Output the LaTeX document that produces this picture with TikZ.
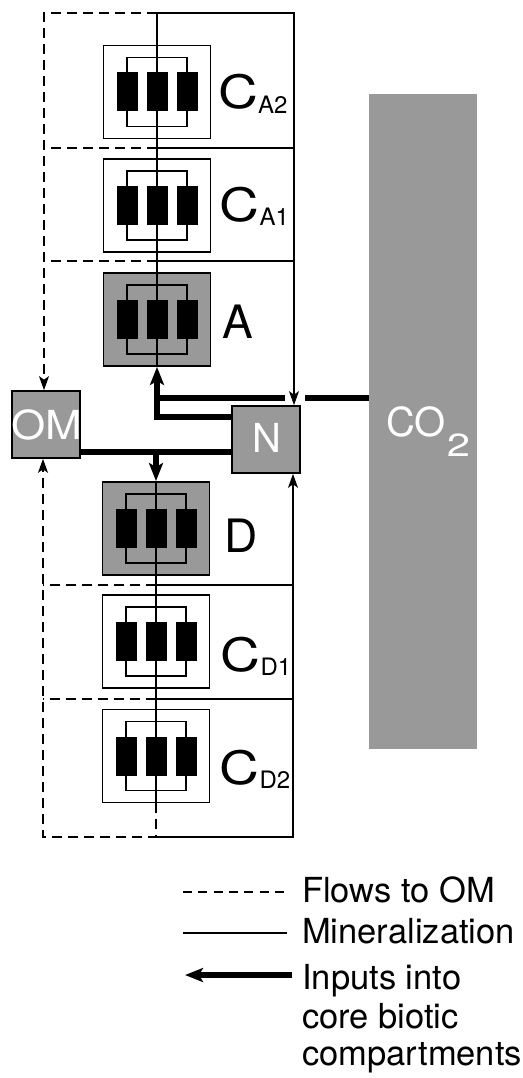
\documentclass[tikz,border=0pt]{standalone}
\usepackage{fontspec}
\usepackage{graphicx}
\setmainfont{TeX Gyre Heros}
\usetikzlibrary{arrows.meta}
\definecolor{stip}{gray}{0.6}
\newcommand{\compart}[4]{%
  \node[#4] (#1) at (#2,#3) {};
  \begin{scope}[shift={(#2,#3)}]
    \draw[line width=1.7pt] (-30,-34.5) rectangle (30,34.5);
    \draw[line width=1.5pt] (0,-46.5) -- (0,46.5);
    \fill (-40.5,-19.5) rectangle (-19.5,19.5);
    \fill (-10.5,-19.5) rectangle (10.5,19.5);
    \fill (19.5,-19.5) rectangle (40.5,19.5);
  \end{scope}}
\begin{document}
\begin{tikzpicture}[x=1pt,y=-1pt,
  thinline/.style={line width=1.5pt},
  omline/.style={line width=1.5pt, dash pattern=on 10pt off 6pt},
  omlegend/.style={line width=1.5pt, dash pattern=on 9pt off 6.3pt},
  thickline/.style={line width=5.5pt},
  cbox/.style={draw, line width=1.9pt, minimum width=107pt, minimum height=93pt, inner sep=0pt},
  cgray/.style={cbox, fill=stip},
  smallbox/.style={draw, line width=1.7pt, fill=stip, minimum width=68pt, minimum height=67pt, inner sep=0pt},
  whitetext/.style={inner sep=0pt, text=white, font=\fontsize{40}{40}\selectfont},
  thinarrow/.style={-{Stealth[length=14pt,width=10pt,inset=3.5pt]}},
  thickarrow/.style={-{Stealth[length=18pt,width=14pt,inset=4pt]}},
  lab/.style={anchor=base west, inner sep=0pt, font=\fontsize{46}{46}\selectfont},
  legtext/.style={anchor=base west, inner sep=0pt, font=\fontsize{34.5}{38}\selectfont},
]
\useasboundingbox (0,0) rectangle (522,1078);

% CO2 column
\node[fill=stip, minimum width=108pt, minimum height=655pt, inner sep=0pt] (CO2) at (423,421.5) {};

% compartments
\compart{CA2}{157}{92}{cbox}
\compart{CA1}{157}{205.5}{cbox}
\compart{A}{157}{319.5}{cgray}
\compart{D}{156}{528.5}{cgray}
\compart{CD1}{156}{641.5}{cbox}
\compart{CD2}{156}{756}{cbox}

% OM and N
\node[smallbox] (OM) at (46,424.5) {};
\node[smallbox] (N) at (266,439.5) {};

% coordinates
\coordinate (TL) at (44,13);
\coordinate (TM) at (157,13);
\coordinate (TR) at (294,13);
\coordinate (s1l) at (44,148);
\coordinate (s1m) at (157,148);
\coordinate (s1r) at (294,148);
\coordinate (s2l) at (44,261);
\coordinate (s2m) at (157,261);
\coordinate (s2r) at (294,261);
\coordinate (BL) at (43,837);
\coordinate (BM) at (156,837);
\coordinate (BR) at (293,837);
\coordinate (s3l) at (43,585);
\coordinate (s3m) at (156,585);
\coordinate (s3r) at (293,585);
\coordinate (s4l) at (43,699);
\coordinate (s4m) at (156,699);
\coordinate (s4r) at (293,699);

% upper thin connectors
\draw[thinline] (TM) -- (CA2.north);
\draw[thinline] (CA2.south) -- (CA1.north);
\draw[thinline] (CA1.south) -- (A.north);
\draw[omline, thinarrow] (TM) -- (TL) -- (TL |- OM.north);
\draw[omline] (s1m) -- (s1l);
\draw[omline] (s2m) -- (s2l);
\draw[thinline] (s1m) -- (s1r);
\draw[thinline] (s2m) -- (s2r);

% lower thin connectors
\draw[thinline] (D.south) -- (CD1.north);
\draw[thinline] (CD1.south) -- (CD2.north);
\draw[omline, thinarrow] (CD2.south) -- (BM) -- (BL) -- (BL |- OM.south);
\draw[omline] (s3m) -- (s3l);
\draw[omline] (s4m) -- (s4l);
\draw[thinline] (s3m) -- (s3r);
\draw[thinline] (s4m) -- (s4r);
\draw[thinline, thinarrow] (BM) -- (BR) -- (BR |- N.south);

% thick input lines
\coordinate (g1) at (305,398);
\coordinate (g2) at (285,398);
\coordinate (j1) at (157,398);
\coordinate (j2) at (157,417);
\coordinate (k) at (156,452);
\draw[thickline] (CO2.west |- g1) -- (g1);
\draw[thickline] (g2) -- (j1);
\draw[thickline, thickarrow] (N.west |- j2) -- (j2) -- (A.south);
\draw[thickline] (OM.east |- k) -- (N.west |- k);
\draw[thickline, thickarrow] (k) -- (D.north);

% mineralization into N (over the thick line gap)
\draw[thinline, thinarrow] (TM) -- (TR) -- (TR |- N.north);

% labels
\node[lab] (lCA2) at (218,109) {\scalebox{1.2}[1]{C}\raisebox{-4.5pt}{\fontsize{24}{24}\selectfont A2}};
\node[lab] (lCA1) at (219.5,221) {\scalebox{1.2}[1]{C}\raisebox{-4.5pt}{\fontsize{24}{24}\selectfont A1}};
\node[lab] (lA) at (222,338) {A};
\node[lab] (lD) at (224.5,552) {D};
\node[lab] (lCD1) at (220.5,671) {\scalebox{1.2}[1]{C}\raisebox{-4.5pt}{\fontsize{24}{24}\selectfont D1}};
\node[lab] (lCD2) at (219.5,784) {\scalebox{1.2}[1]{C}\raisebox{-4.5pt}{\fontsize{24}{24}\selectfont D2}};

\node[whitetext] (tOM) at (46.5,424.5) {\scalebox{1.1}[1]{OM}};
\node[whitetext] (tN) at (267,438) {N};
\node[whitetext, anchor=base west] (tCO2) at (386,436) {CO\kern1pt\raisebox{-20pt}{\fontsize{32}{32}\selectfont\scalebox{1.3}[1]{2}}};

% legend
\coordinate (la) at (183,892);
\coordinate (lb) at (286,892);
\coordinate (lc) at (183,933);
\coordinate (ld) at (287,933);
\coordinate (le) at (292,975);
\coordinate (lf) at (185,975);
\draw[omlegend] (la) -- (lb);
\draw[thinline] (lc) -- (ld);
\draw[thickline, thickarrow] (le) -- (lf);
\node[legtext] (t1) at (302,902) {Flows to OM};
\node[legtext] (t2) at (302,943) {Mineralization};
\node[legtext] (t3) at (302,989) {Inputs into};
\node[legtext] (t4) at (302,1028) {core biotic};
\node[legtext] (t5) at (302,1065) {compartments};
\end{tikzpicture}
\end{document}
